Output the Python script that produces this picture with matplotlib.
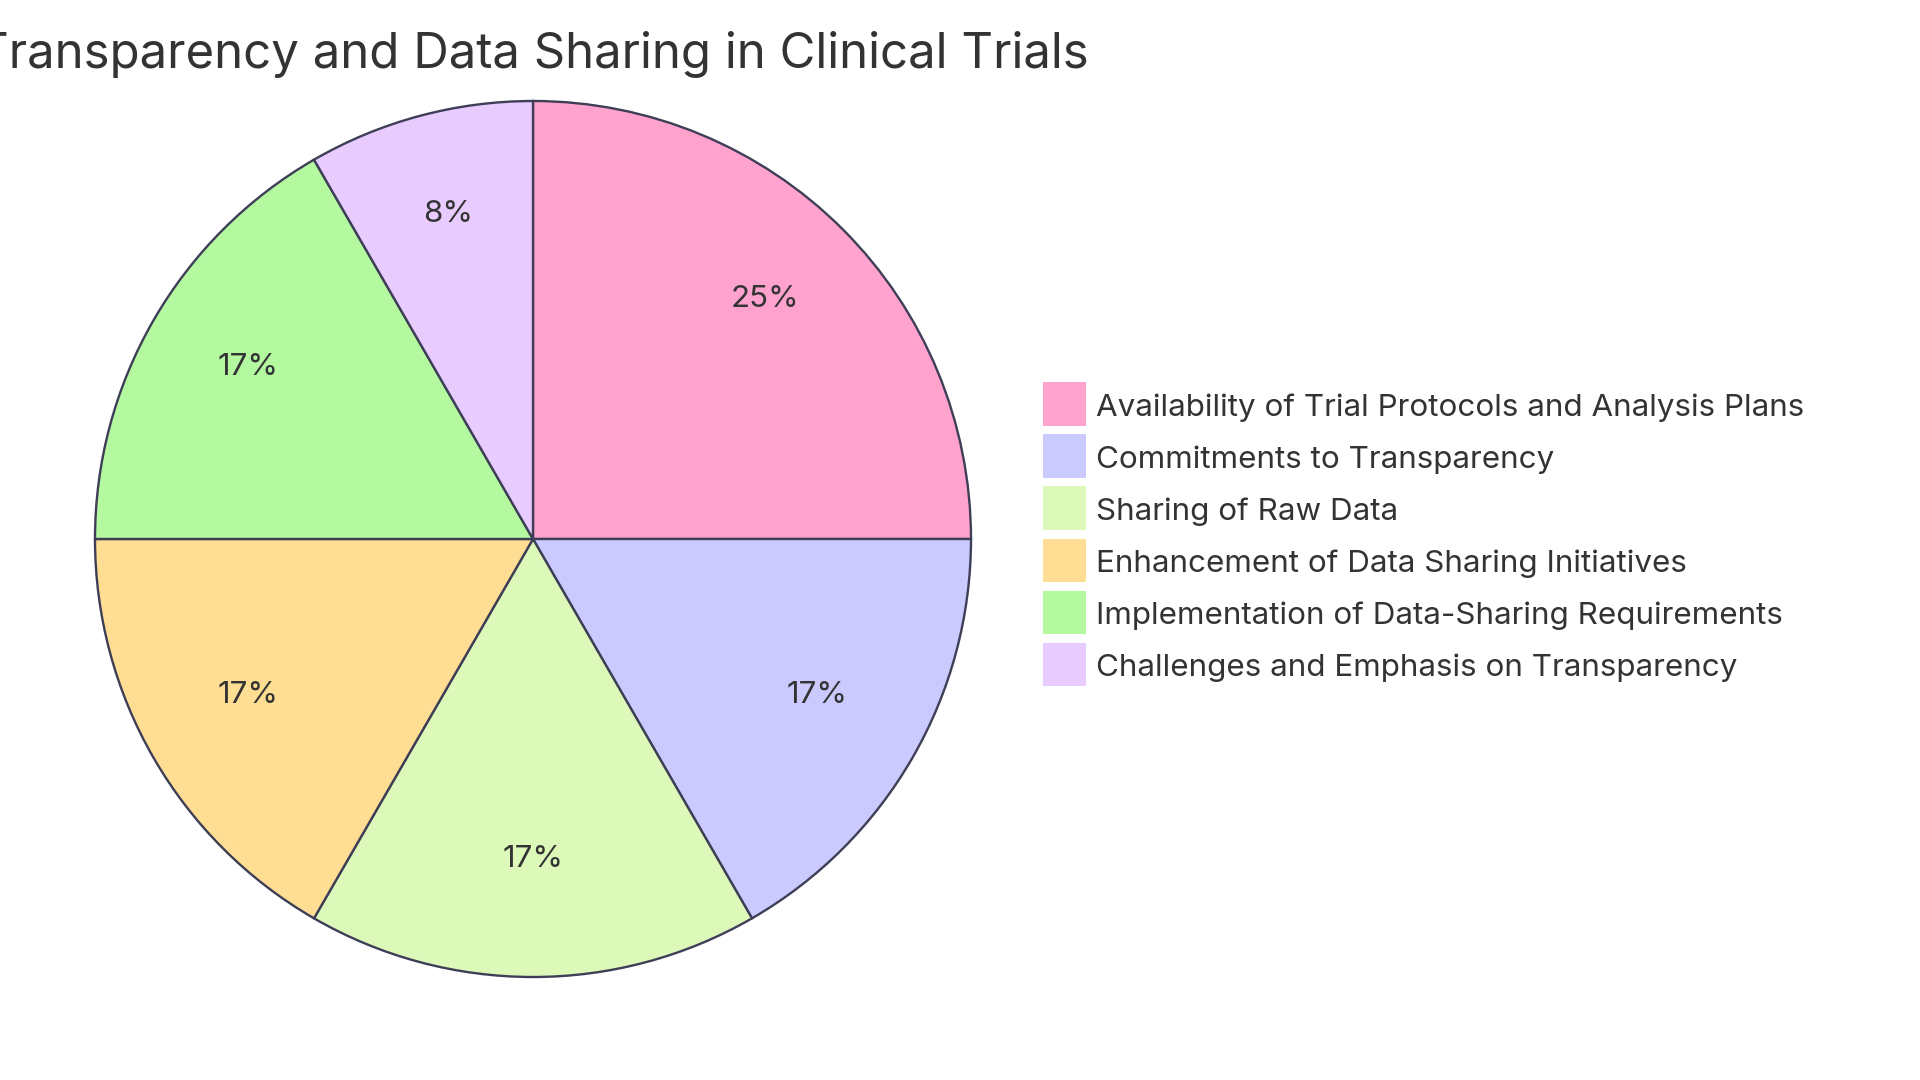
import matplotlib
matplotlib.use("Agg")
import matplotlib.pyplot as plt
from matplotlib.patches import Rectangle

title = "Transparency and Data Sharing in Clinical Trials"
labels = [
    "Availability of Trial Protocols and Analysis Plans",
    "Commitments to Transparency",
    "Sharing of Raw Data",
    "Enhancement of Data Sharing Initiatives",
    "Implementation of Data-Sharing Requirements",
    "Challenges and Emphasis on Transparency",
]
values = [3, 2, 2, 2, 2, 1]
colors = ["#FFA3CE", "#CACAFF", "#DCF9BA", "#FFDE94", "#B4F9A0", "#E8CBFF"]

plt.rcParams["font.family"] = ["Inter", "DejaVu Sans"]
W, H = 1920, 1080
fig = plt.figure(figsize=(W / 100, H / 100), dpi=100)
fig.patch.set_facecolor("white")

cx, cy, r = 533, 539, 438
ax = fig.add_axes([(cx - r) / W, (H - cy - r) / H, 2 * r / W, 2 * r / H])
wedges, texts, autotexts = ax.pie(
    values, colors=colors, startangle=90, counterclock=False,
    autopct=lambda p: f"{p:.0f}%", pctdistance=0.75,
    wedgeprops=dict(edgecolor="#3E3E56", linewidth=1.7),
    textprops=dict(fontsize=22.5, color="#333333"),
)
for t in autotexts:
    t.set_va("baseline")
ax.set_xlim(-1.0, 1.0)
ax.set_ylim(-1.0, 1.0)
ax.axis("off")

fig.text(cx / W, 1 - 54 / H, title, ha="center", va="center", fontsize=35.4, color="#333333")

lx, ly0, sq, step = 1043, 404, 43, 52
for i, (lab, col) in enumerate(zip(labels, colors)):
    y = ly0 + i * step
    fig.add_artist(Rectangle((lx / W, 1 - (y + sq / 2) / H), sq / W, sq / H,
                             transform=fig.transFigure, facecolor=col, edgecolor="none"))
    fig.text((lx + sq + 10) / W, 1 - (y + 4) / H, lab, ha="left", va="center",
             fontsize=22.6, color="#333333")

fig.savefig("out.png", dpi=100, facecolor="white")
